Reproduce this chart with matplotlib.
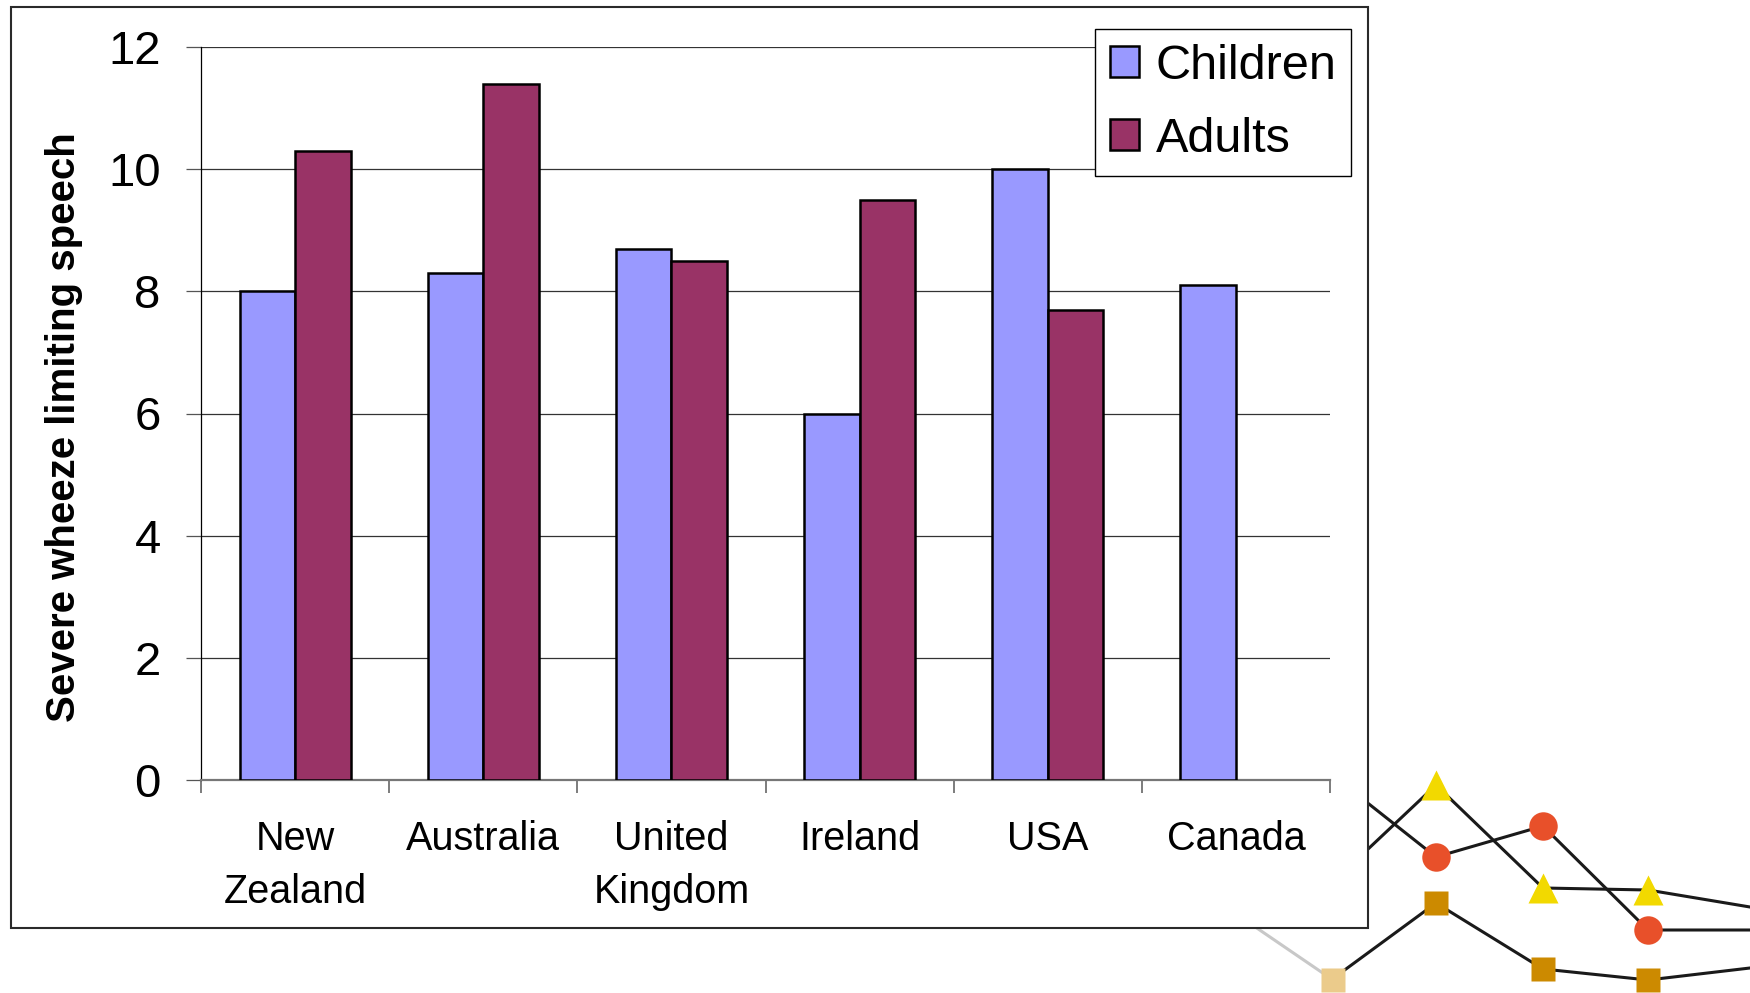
import numpy as np
import matplotlib
matplotlib.use('Agg')
import matplotlib.pyplot as plt
from matplotlib.patches import Rectangle
from matplotlib.ticker import FixedLocator

countries = ['New\nZealand', 'Australia', 'United\nKingdom', 'Ireland', 'USA', 'Canada']
children = [8.0, 8.3, 8.7, 6.0, 10.0, 8.1]
adults = [10.3, 11.4, 8.5, 9.5, 7.7, np.nan]
y_ticks = [0, 2, 4, 6, 8, 10, 12]
series_names = ['Children', 'Adults']

# decorative background motif (pixel coordinates of the slide)
deco_x = [1331, 1436, 1543, 1648, 1750]
deco_tri = [884, 785, 888, 890, 907]
deco_circ = [774, 857, 826, 930, 930]
deco_sq = [980, 903, 969, 980, 968]
faded_x = [1226, 1333]
faded_y = [907, 980]

plt.rcParams['font.family'] = ['Liberation Sans', 'DejaVu Sans']
W, H = 1750, 993
fig = plt.figure(figsize=(17.5, 9.93), dpi=100)
fig.patch.set_facecolor('white')

bg = fig.add_axes([0, 0, 1, 1], zorder=0)
bg.set_xlim(0, W)
bg.set_ylim(H, 0)
bg.axis('off')
bg.plot(faded_x, faded_y, color='#c8c8c8', lw=2.2, zorder=1)
bg.plot(deco_x, deco_tri, color='#1a1a1a', lw=2.2, zorder=1)
bg.plot(deco_x, deco_circ, color='#1a1a1a', lw=2.2, zorder=1)
bg.plot(deco_x, deco_sq, color='#1a1a1a', lw=2.2, zorder=1)
bg.plot(deco_x[1:4], deco_tri[1:4], ls='none', marker='^', ms=22, color='#F2D900', mec='none', zorder=2)
bg.plot(deco_x[1:4], deco_circ[1:4], ls='none', marker='o', ms=20.5, color='#E8502A', mec='none', zorder=2)
bg.plot(deco_x[1:4], deco_sq[1:4], ls='none', marker='s', ms=17, color='#CC8A00', mec='none', zorder=2)
bg.plot([faded_x[1]], [faded_y[1]], ls='none', marker='s', ms=17, color='#EBCB8B', mec='none', zorder=2)
bg.add_patch(Rectangle((11, 7), 1357, 921, fc='white', ec='#2a2a2a', lw=1.5, zorder=5))

ax = fig.add_axes([201 / W, 1 - 780 / H, (1330 - 201) / W, (780 - 47) / H], zorder=2)
x = np.arange(len(countries))
w = 0.295
ax.bar(x - w / 2, children, w, color='#9999FF', edgecolor='black', lw=1.8, label=series_names[0], zorder=3)
ax.bar(x + w / 2, adults, w, color='#993366', edgecolor='black', lw=1.8, label=series_names[1], zorder=3)

ax.set_xlim(-0.5, len(countries) - 0.5)
ax.set_ylim(0, 12)
ax.set_yticks(y_ticks)
ax.yaxis.grid(True, color='#333333', lw=0.9, zorder=0)
ax.set_axisbelow(True)
ax.tick_params(axis='y', labelsize=34, length=11, width=0.9, color='#555555', pad=18)

ax.set_xticks(x)
ax.set_xticklabels(countries, fontsize=28.5, linespacing=1.5)
ax.xaxis.set_minor_locator(FixedLocator(np.arange(-0.5, len(countries), 1.0)))
ax.tick_params(axis='x', which='major', length=0, pad=29)
ax.tick_params(axis='x', which='minor', length=9, width=1.2, color='#666666')

for s in ['top', 'right']:
    ax.spines[s].set_visible(False)
ax.spines['left'].set_color('black')
ax.spines['left'].set_linewidth(0.9)
ax.spines['bottom'].set_color('#777777')
ax.spines['bottom'].set_linewidth(1.6)

ax.set_ylabel('Severe wheeze limiting speech', fontsize=29, fontweight='bold', va='center')
ax.yaxis.set_label_coords(-0.121, 0.482)

leg = ax.legend(loc='upper left', bbox_to_anchor=(1095 / W, 1 - 29 / H), bbox_transform=fig.transFigure,
                fontsize=35, frameon=True, fancybox=False, shadow=False, framealpha=1,
                edgecolor='black', handlelength=0.6, handleheight=0.6, handletextpad=0.35,
                labelspacing=0.58, borderpad=0.3, borderaxespad=0)
leg.get_frame().set_linewidth(1.0)

fig.savefig('out.png', dpi=100, facecolor='white')
